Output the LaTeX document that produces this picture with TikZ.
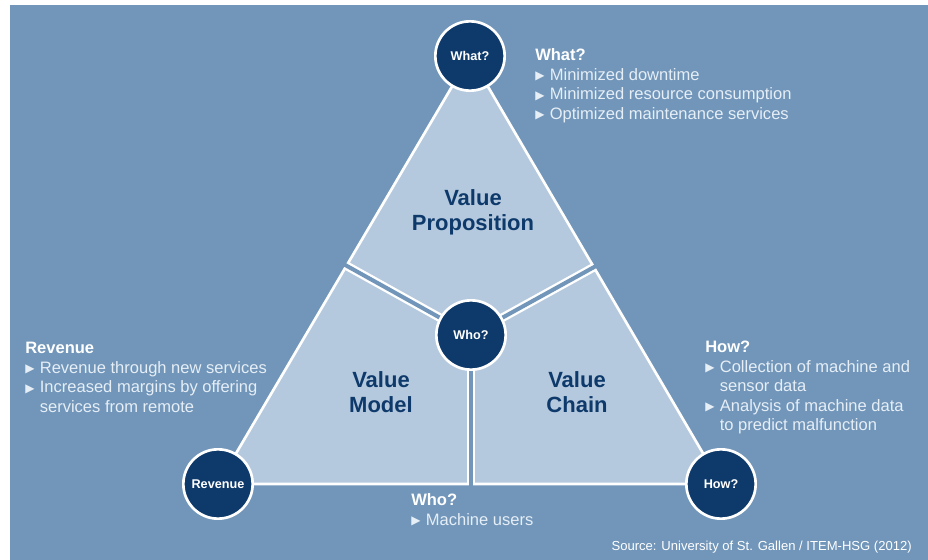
\documentclass[tikz,border=0pt]{standalone}
\usepackage{fontspec}
\setmainfont{Liberation Sans}
\newfontfamily\arrowfont{DejaVu Sans}
\usetikzlibrary{positioning}

\definecolor{bgblue}{HTML}{7196BA}
\definecolor{paleblue}{HTML}{B5C9DE}
\definecolor{navy}{HTML}{0E3A6B}
\definecolor{paletext}{HTML}{E6EEF6}

% small bullet arrow in front of each list entry
\newcommand{\pointer}{\raisebox{0.3pt}{\arrowfont\fontsize{9}{9}\selectfont ▶}}

\tikzset{
    hub/.style={circle, fill=navy, draw=white, line width=2pt, minimum size=52pt,
        inner sep=0pt, text=white, font=\bfseries\fontsize{9.5}{9.5}\selectfont},
    field/.style={text=navy, align=center, font=\bfseries\fontsize{16.5}{19}\selectfont},
    notes/.style={anchor=north west, inner sep=0pt, text=paletext,
        font=\fontsize{12.4}{14.6}\selectfont},
    gap/.style={bgblue, line width=3pt},
}

\begin{document}
\begin{tikzpicture}[x=0.75pt, y=-0.75pt]
        \useasboundingbox (0, 0) rectangle (928, 560);
        \fill [white] (0, 0) rectangle (928, 560);
        \fill [bgblue] (10, 5) rectangle (928, 560);

        \node (0) at (470, 56) {};
        \node (1) at (218, 484) {};
        \node (2) at (721, 484) {};
        \node (3) at (471, 335) {};
        \node (4) at (347, 266) {};
        \node (5) at (596, 266) {};
        \node (6) at (471, 484) {};

        \filldraw [fill=paleblue, draw=white, line width=2pt] (0.center) to (1.center) to (2.center) -- cycle;
        \begin{scope}
            \clip (0.center) to (1.center) to (2.center) -- cycle;
            \draw [white, line width=6.5pt] (4.center) to (3.center) to (5.center);
            \draw [white, line width=6.5pt] (3.center) to (6.center);
        \end{scope}
        \draw [gap, shorten <=-3pt, shorten >=-3pt] (4.center) to (3.center) to (5.center);
        \draw [gap, shorten >=-3pt] (3.center) to (6.center);

        \node [hub] (7) at (0) {What?};
        \node [hub] (8) at (1) {Revenue};
        \node [hub] (9) at (2) {How?};
        \node [hub] (10) at (3) {Who?};

        \node [field] (11) at (473, 212) {Value\\Proposition};
        \node [field] (12) at (381, 392) {Value\\Model};
        \node [field] (13) at (577, 392) {Value\\Chain};

        \node [notes] (14) at (535, 47) {\begin{tabular}{@{}l@{\hspace{4pt}}l@{}}
            \multicolumn{2}{@{}l}{\color{white}\bfseries What?}\\
            \pointer & Minimized downtime\\
            \pointer & Minimized resource consumption\\
            \pointer & Optimized maintenance services
        \end{tabular}};
        \node [notes] (15) at (25, 340) {\begin{tabular}{@{}l@{\hspace{4pt}}l@{}}
            \multicolumn{2}{@{}l}{\color{white}\bfseries Revenue}\\
            \pointer & Revenue through new services\\
            \pointer & Increased margins by offering\\
                     & services from remote
        \end{tabular}};
        \node [notes] (16) at (705, 339) {\begin{tabular}{@{}l@{\hspace{4pt}}l@{}}
            \multicolumn{2}{@{}l}{\color{white}\bfseries How?}\\
            \pointer & Collection of machine and\\
                     & sensor data\\
            \pointer & Analysis of machine data\\
                     & to predict malfunction
        \end{tabular}};
        \node [notes] (17) at (411, 492) {\begin{tabular}{@{}l@{\hspace{4pt}}l@{}}
            \multicolumn{2}{@{}l}{\color{white}\bfseries Who?}\\
            \pointer & Machine users
        \end{tabular}};

        \node [anchor=base east, inner sep=0pt, text=white, font=\fontsize{9.8}{12}\selectfont] (18) at (912, 550) {Source: University of St. Gallen / ITEM-HSG (2012)};
    \end{tikzpicture}
\end{document}
